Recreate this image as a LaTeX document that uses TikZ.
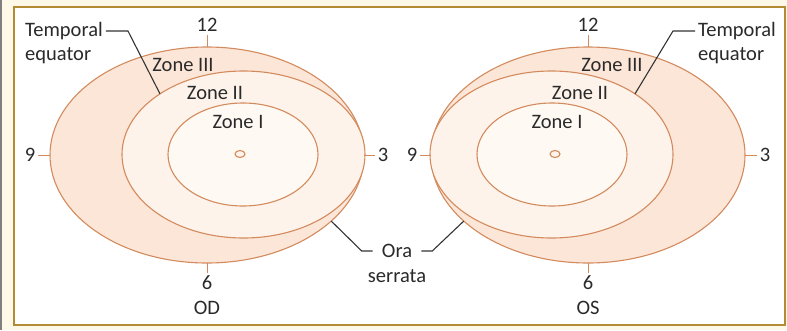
\documentclass[tikz,border=0pt]{standalone}
\usepackage{fontspec}
\setmainfont{Carlito}
\usetikzlibrary{shapes.geometric}
\definecolor{cream}{HTML}{FDF8E7}
\definecolor{framegold}{HTML}{B38B35}
\definecolor{rimline}{HTML}{D38B5E}
\definecolor{zoneout}{HTML}{FCE6D8}
\definecolor{zonemid}{HTML}{FDF3EA}
\definecolor{zonein}{HTML}{FFF9F3}
\definecolor{leadergray}{HTML}{333333}
\definecolor{labeltext}{HTML}{2A2A2A}
\begin{document}
\begin{tikzpicture}[
    x=1pt, y=-1pt,
    zone/.style={ellipse, draw=rimline, line width=1.1pt, inner sep=0pt, outer sep=0pt},
    lbl/.style={font=\fontsize{20.5}{24}\selectfont, text=labeltext, inner sep=3pt},
    tick/.style={draw=rimline, line width=1pt},
    leader/.style={draw=leadergray, line width=1.1pt},
]
\useasboundingbox (0,0) rectangle (787,330);
\fill[cream] (0,0) rectangle (787,330);
\draw[gray, line width=1.5pt] (0.75,0) -- (0.75,330);
\draw[framegold, fill=white, line width=2pt] (14,7) rectangle (785,325);

% OD
\node[zone, fill=zoneout, minimum width=314pt, minimum height=216pt] (outerL) at (207,155) {};
\node[zone, fill=zonemid, minimum width=243pt, minimum height=167pt] (midL) at (243.5,154.5) {};
\node[zone, fill=zonein, minimum width=150pt, minimum height=103pt] (innerL) at (243,154.5) {};
\node[zone, fill=zonemid, minimum width=10pt, minimum height=7pt] (dotL) at (240,154) {};
\node[lbl] (z3L) at (183,65) {Zone III};
\node[lbl] (z2L) at (215,93) {Zone II};
\node[lbl] (z1L) at (238,122) {Zone I};
\node[lbl] (n12L) at (207,25) {12};
\node[lbl] (n9L) at (30,155) {9};
\node[lbl] (n3L) at (383,155) {3};
\node[lbl] (n6L) at (207,283) {6};
\node[lbl] (odL) at (207,308) {OD};
\draw[tick] (outerL.north) -- (n12L);
\draw[tick] (outerL.west) -- (n9L);
\draw[tick] (outerL.east) -- (n3L);
\draw[tick] (outerL.south) -- (n6L);

% OS
\node[zone, fill=zoneout, minimum width=314pt, minimum height=216pt] (outerR) at (588,155) {};
\node[zone, fill=zonemid, minimum width=243pt, minimum height=167pt] (midR) at (551.5,154.5) {};
\node[zone, fill=zonein, minimum width=150pt, minimum height=103pt] (innerR) at (552,154.5) {};
\node[zone, fill=zonemid, minimum width=10pt, minimum height=7pt] (dotR) at (555,154) {};
\node[lbl] (z3R) at (612,65) {Zone III};
\node[lbl] (z2R) at (580,93) {Zone II};
\node[lbl] (z1R) at (557,122) {Zone I};
\node[lbl] (n12R) at (588,25) {12};
\node[lbl] (n9R) at (412,155) {9};
\node[lbl] (n3R) at (765,155) {3};
\node[lbl] (n6R) at (588,283) {6};
\node[lbl] (osR) at (588,308) {OS};
\draw[tick] (outerR.north) -- (n12R);
\draw[tick] (outerR.west) -- (n9R);
\draw[tick] (outerR.east) -- (n3R);
\draw[tick] (outerR.south) -- (n6R);

% temporal equator
\node[lbl, anchor=west] (tempL) at (22,31) {Temporal};
\node[lbl, anchor=west] (eqL) at (22,56) {equator};
\node[lbl, anchor=west] (tempR) at (695,31) {Temporal};
\node[lbl, anchor=west] (eqR) at (695,56) {equator};
\draw[leader] (tempL.east) -- ++(22,0) -- (midL.144);
\draw[leader] (tempR.west) -- ++(-22,0) -- (midR.36);

% ora serrata
\node[lbl] (ora) at (397,251) {Ora};
\node[lbl] (serrata) at (397,276) {serrata};
\draw[leader] ([xshift=-6pt]ora.west) -- ++(-11,0) -- (outerL.-28);
\draw[leader] ([xshift=6pt]ora.east) -- ++(11,0) -- (outerR.-152);
\end{tikzpicture}
\end{document}
